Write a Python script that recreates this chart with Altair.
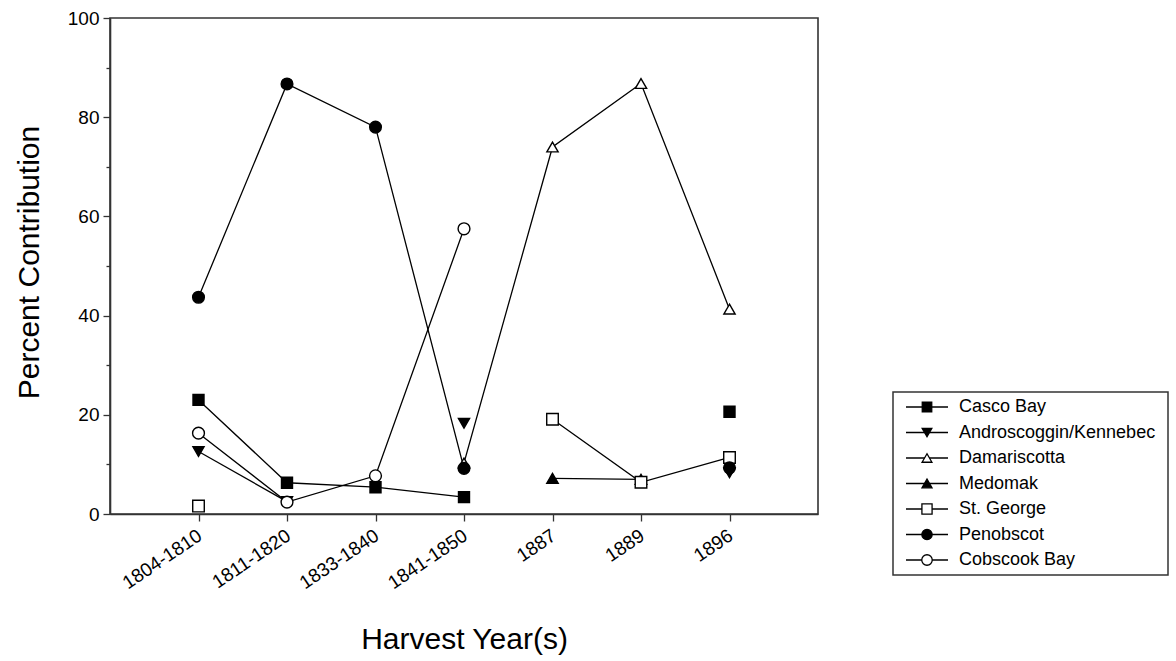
import altair as alt
import pandas as pd

years = ["1804-1810", "1811-1820", "1833-1840", "1841-1850", "1887", "1889", "1896"]
series_names = ["Casco Bay", "Androscoggin/Kennebec", "Damariscotta", "Medomak",
                "St. George", "Penobscot", "Cobscook Bay"]

casco = [23.0, 6.3, 5.4, 3.4, None, None, 20.6]
andro = [12.6, 2.5, None, 18.3, None, None, 8.3]
damar = [None, None, None, 10.3, 74.0, 86.8, 41.3]
medomak = [None, None, None, None, 7.2, 7.0, None]
stgeorge = [1.6, None, None, None, 19.1, 6.4, 11.4]
penob = [43.7, 86.7, 78.0, 9.2, None, None, 9.3]
cobs = [16.3, 2.4, 7.7, 57.5, None, None, None]

all_values = [casco, andro, damar, medomak, stgeorge, penob, cobs]

shapes = ["square", "triangle-down", "triangle-up", "triangle-up", "square", "circle", "circle"]
fills = ["black", "black", "white", "black", "white", "black", "white"]
sizes = [121, 140, 140, 140, 121, 169, 169]
legend_sizes = [90, 110, 110, 110, 90, 110, 110]

rows = []
for name, vals in zip(series_names, all_values):
    seg = 0
    for yr, v in zip(years, vals):
        if v is None:
            seg += 1
            continue
        rows.append({"series": name, "year": yr, "value": v, "seg": f"{name}-{seg}"})
df = pd.DataFrame(rows)
legend_df = pd.DataFrame({"series": series_names})
frame_df = pd.DataFrame({"k": [0]})

FONT = "Liberation Sans"

x_enc = alt.X("year:O", sort=years,
              scale=alt.Scale(type="point", domain=years, padding=1),
              axis=alt.Axis(title="Harvest Year(s)", labelAngle=-34, labelAlign="right",
                            labelBaseline="top", labelPadding=5, labelOffset=-4, labelFontSize=19,
                            tickSize=7, titleFontSize=30, titleFontWeight="normal",
                            titleY=134, titleBaseline="alphabetic"))
y_enc = alt.Y("value:Q", scale=alt.Scale(domain=[0, 100], nice=False, zero=True),
              axis=alt.Axis(title="Percent Contribution", values=list(range(0, 101, 10)),
                            labelExpr="datum.value % 20 === 0 ? datum.label : ''",
                            tickSize={"condition": {"test": "datum.value % 20 !== 0", "value": 4}, "value": 7},
                            labelPadding=4, labelFontSize=19, titleFontSize=30,
                            titleFontWeight="normal", titleX=-72, titleY=244,
                            titleBaseline="alphabetic", grid=False))

shape_scale = alt.Scale(domain=series_names, range=shapes)
fill_scale = alt.Scale(domain=series_names, range=fills)
size_scale = alt.Scale(domain=series_names, range=sizes)

lines = alt.Chart(df).mark_line(color="black", strokeWidth=1.3).encode(
    x=x_enc, y=y_enc, detail="seg:N")
points = alt.Chart(df).mark_point(filled=True, stroke="black", strokeWidth=1.4, opacity=1).encode(
    x=x_enc, y=y_enc,
    shape=alt.Shape("series:N", scale=shape_scale, legend=None),
    fill=alt.Fill("series:N", scale=fill_scale, legend=None),
    size=alt.Size("series:N", scale=size_scale, legend=None),
)
main = alt.layer(lines, points)

frame = alt.Chart(frame_df).mark_rect(fill="white", stroke="#333333", strokeWidth=1.5).encode(
    x=alt.value(783), x2=alt.value(1058), y=alt.value(374), y2=alt.value(557))

ly = alt.Y("series:N", sort=series_names,
           scale=alt.Scale(type="point", domain=series_names, range=[389, 542], padding=0),
           axis=None)
leg_rule = alt.Chart(legend_df).mark_rule(color="black", strokeWidth=1.6).encode(
    x=alt.value(796), x2=alt.value(838), y=ly)
leg_pts = alt.Chart(legend_df).mark_point(filled=True, stroke="black", strokeWidth=1.3, opacity=1).encode(
    x=alt.value(817), y=ly,
    shape=alt.Shape("series:N", scale=shape_scale, legend=None),
    fill=alt.Fill("series:N", scale=fill_scale, legend=None),
    size=alt.Size("series:N", scale=alt.Scale(domain=series_names, range=legend_sizes), legend=None))
leg_txt = alt.Chart(legend_df).mark_text(align="left", baseline="middle", fontSize=18, font=FONT,
                                         color="black").encode(
    x=alt.value(849), y=ly, text="series:N")
legend = alt.layer(leg_rule, leg_pts, leg_txt).resolve_scale(size="independent")

chart = alt.layer(main, frame, legend).resolve_scale(y="independent", size="independent").properties(
    width=708, height=496,
    background="white",
    autosize=alt.AutoSizeParams(type="none"),
    padding={"left": 110, "top": 18, "right": 358, "bottom": 147},
).configure_view(stroke="#333333", strokeWidth=1.6).configure_axis(
    labelFont=FONT, titleFont=FONT, labelColor="black", titleColor="black",
    domainColor="#333333", domainWidth=1.6, tickColor="#333333", tickWidth=1.3,
)

chart.save("out.html", embed_options={"renderer": "svg", "actions": False})
